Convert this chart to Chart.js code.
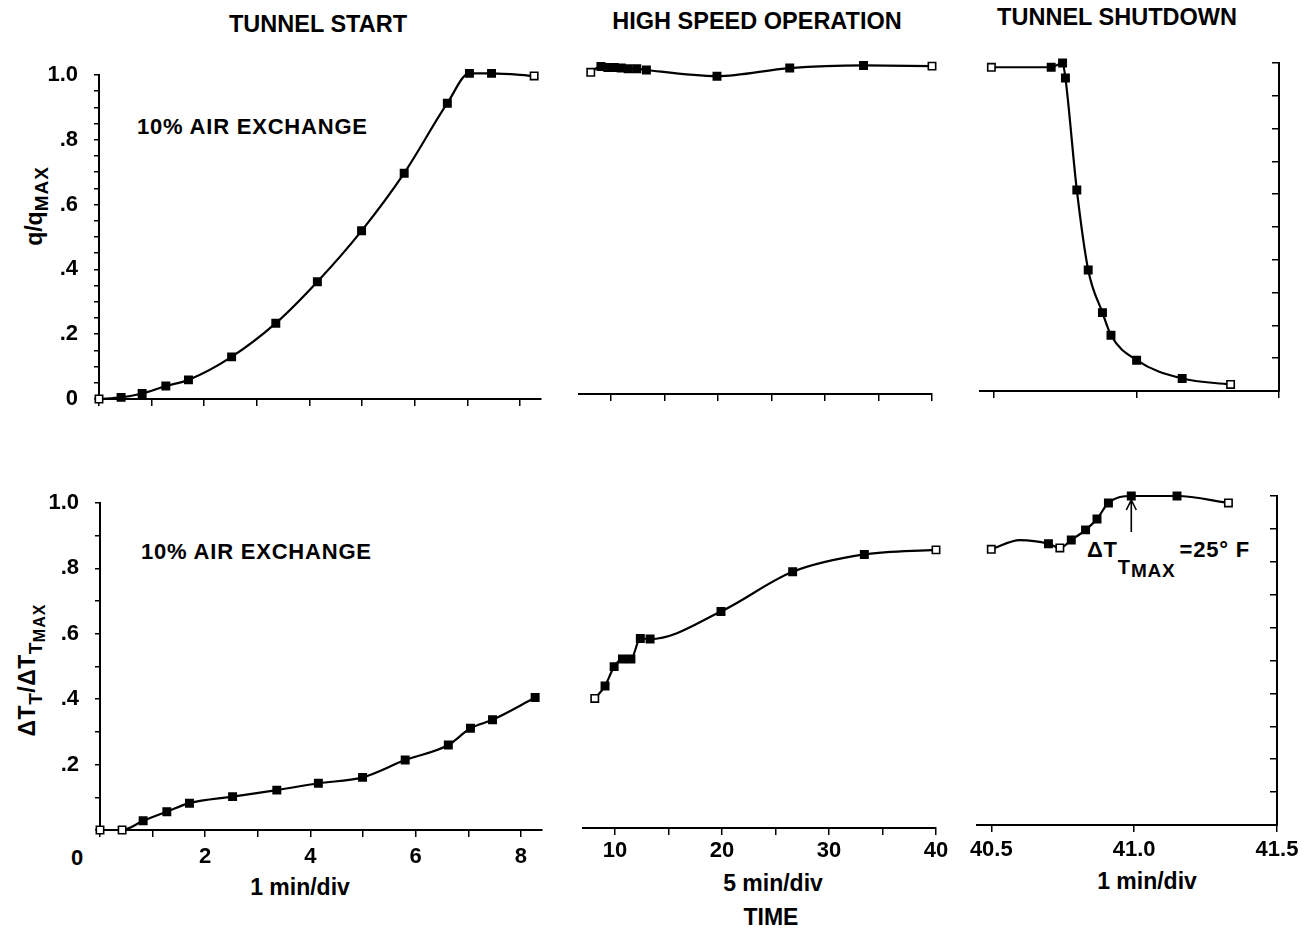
<!DOCTYPE html>
<html>
<head>
<meta charset="utf-8">
<script src="https://cdn.jsdelivr.net/npm/chart.js@4.4.1/dist/chart.umd.min.js"></script>
<style>
  html, body { margin: 0; padding: 0; background: #fff; }
  #fig {
    position: relative; width: 1314px; height: 932px; overflow: hidden; background: #fff;
    font-family: 'Liberation Sans', Arial, sans-serif; font-weight: bold; color: #000;
  }
  #fig canvas { position: absolute; }
  .lbl { position: absolute; white-space: nowrap; line-height: 1; transform: translate(-50%, -50%); }
  .ttl { font-size: 23.5px; }
  .axt { font-size: 23px; }
  .note { position: absolute; white-space: nowrap; line-height: 1; font-size: 22px; letter-spacing: 0.8px; }
  .vert { position: absolute; white-space: nowrap; line-height: 1; transform: translate(-50%, -50%) rotate(-90deg); }
  .sub { display: inline-block; position: relative; }
</style>
</head>
<body>
<div id="fig">
  <div class="lbl ttl" style="left:318px; top:25px;">TUNNEL START</div>
  <div class="lbl ttl" style="left:757px; top:22px;">HIGH SPEED OPERATION</div>
  <div class="lbl ttl" style="left:1117px; top:18px;">TUNNEL SHUTDOWN</div>

  <div class="note" style="left:137px; top:116px;">10% AIR EXCHANGE</div>
  <div class="note" style="left:141px; top:541px;">10% AIR EXCHANGE</div>

  <div class="vert" style="left:34px; top:206px; font-size:23px;">q/q<span class="sub" style="font-size:19px; top:6px; letter-spacing:1px;">MAX</span></div>
  <div class="vert" style="left:27px; top:670px; font-size:23px; letter-spacing:0.5px;">&Delta;T<span class="sub" style="font-size:19px; top:7px;">T</span>/&Delta;T<span class="sub" style="font-size:19px; top:7px;">T</span><span class="sub" style="font-size:16px; top:10px; letter-spacing:1px;">MAX</span></div>

  <div class="lbl" style="left:77px; top:858px; font-size:22px;">0</div>

  <div class="lbl axt" style="left:300px; top:887px;">1 min/div</div>
  <div class="lbl axt" style="left:773px; top:883px;">5 min/div</div>
  <div class="lbl axt" style="left:771px; top:917px;">TIME</div>
  <div class="lbl axt" style="left:1147px; top:881px;">1 min/div</div>

  <div class="note" style="left:1087px; top:539px;">&Delta;T<span class="sub" style="font-size:20px; top:17px;">T</span><span class="sub" style="font-size:19px; top:20px;">MAX</span><span style="margin-left:4px;">=25&deg; F</span></div>
</div>

<script>
// ---- values ----
// tunnel start, time in minutes (1 min/div)
const startTime = [0, 0.42, 0.82, 1.27, 1.7, 2.52, 3.36, 4.15, 4.99, 5.8, 6.62, 7.04, 7.46, 8.27];
const startQ    = [0, 0.005, 0.017, 0.04, 0.059, 0.13, 0.234, 0.362, 0.519, 0.697, 0.913, 1.005, 1.005, 0.997];
const startDT   = [0, 0, 0.028, 0.056, 0.082, 0.102, 0.122, 0.143, 0.161, 0.214, 0.26, 0.311, 0.337, 0.405];

// high speed operation (5 min/div)
const highTimeQ  = [8.1, 9.05, 9.69, 10.3, 10.95, 11.6, 12.4, 13.3, 19.9, 26.7, 33.6, 40];
const highQ      = [0.993, 1.011, 1.008, 1.008, 1.006, 1.004, 1.004, 1.0, 0.981, 1.006, 1.014, 1.012];
const highTimeDT = [8.1, 9.06, 9.91, 10.69, 11.48, 12.36, 13.27, 19.9, 26.6, 33.3, 40];
const highDT     = [0.395, 0.433, 0.492, 0.515, 0.515, 0.578, 0.576, 0.66, 0.781, 0.834, 0.848];

// tunnel shutdown (1 min/div)
const shutTimeQ  = [40.49, 40.7, 40.74, 40.75, 40.79, 40.83, 40.88, 40.91, 41.0, 41.16, 41.33];
const shutQ      = [0.987, 0.987, 1.0, 0.954, 0.613, 0.369, 0.239, 0.17, 0.094, 0.038, 0.02];
const shutTimeDT = [40.5, 40.6, 40.7, 40.74, 40.78, 40.83, 40.87, 40.91, 40.99, 41.15, 41.33];
const shutDT     = [0.838, 0.866, 0.855, 0.842, 0.866, 0.897, 0.93, 0.979, 1.0, 1.0, 0.979];

// hollow markers and unmarked curve points (indices)
const openStartQ = [0, 13], openStartDT = [0, 1];
const openHighQ = [0, 11], openHighDT = [0, 10];
const openShutQ = [0, 10], openShutDT = [0, 3, 10];
const bareShutDT = [1];

// tick labels
const yTopVals = [0, 0.2, 0.4, 0.6, 0.8, 1.0];
const yTopText = ['0', '.2', '.4', '.6', '.8', '1.0'];
const yBotVals = [0.2, 0.4, 0.6, 0.8, 1.0];
const yBotText = ['.2', '.4', '.6', '.8', '1.0'];
const xStartVals = [2, 4, 6, 8];
const xHighVals = [10, 20, 30, 40];
const xShutVals = [40.5, 41.0, 41.5];
const xShutText = ['40.5', '41.0', '41.5'];

// peak marker arrow (ΔT_TMAX)
const arrowTime = 40.99, arrowTip = 1.0;

// ---- layout ----
// margins round each plot area; top/right are generous so chart.js
// never nudges the plot area for the edge tick labels
const ML = 80, MR = 40, MT = 40, MB = 50;
const FONT = { family: "'Liberation Sans', Arial, sans-serif", size: 22, weight: 'bold' };
const fig = document.getElementById('fig');

function labeler(vals, text) {
  return v => {
    const i = vals.findIndex(t => Math.abs(t - v) < 1e-6);
    return i < 0 ? '' : (text ? text[i] : String(vals[i]));
  };
}

function series(xs, ys, open, bare) {
  bare = bare || [];
  return {
    data: xs.map((x, i) => ({ x, y: ys[i] })),
    borderColor: '#000',
    borderWidth: 2.2,
    cubicInterpolationMode: 'monotone',
    pointStyle: 'rect',
    pointRadius: xs.map((_, i) => bare.includes(i) ? 0 : 5.2),
    pointBackgroundColor: xs.map((_, i) => open.includes(i) ? '#fff' : '#000'),
    pointBorderColor: '#000',
    pointBorderWidth: 1.6,
    clip: false,
  };
}

const peakArrow = {
  id: 'peakArrow',
  afterDatasetsDraw(chart) {
    const x = chart.scales.x.getPixelForValue(arrowTime);
    const y = chart.scales.y.getPixelForValue(arrowTip) + 4;
    const ctx = chart.ctx;
    ctx.save();
    ctx.strokeStyle = '#000';
    ctx.lineWidth = 1.6;
    ctx.beginPath();
    ctx.moveTo(x, y); ctx.lineTo(x, y + 32);
    ctx.moveTo(x - 5, y + 10); ctx.lineTo(x, y); ctx.lineTo(x + 5, y + 10);
    ctx.stroke();
    ctx.restore();
  }
};

function panel(rect, o) {
  const cv = document.createElement('canvas');
  const w = rect.r - rect.l + ML + MR, h = rect.b - rect.t + MT + MB;
  cv.width = w; cv.height = h;
  cv.style.left = (rect.l - ML) + 'px';
  cv.style.top = (rect.t - MT) + 'px';
  cv.style.width = w + 'px';
  cv.style.height = h + 'px';
  fig.appendChild(cv);

  const yPos = o.yPos || 'left';
  const gridOf = len => ({ display: true, drawOnChartArea: false, drawTicks: true,
                           tickLength: len, color: '#000', lineWidth: 1.5 });
  const yScale = {
    type: 'linear', min: 0, max: 1, position: yPos, display: o.yShow,
    border: { display: true, color: '#000', width: 2 },
    grid: gridOf(yPos === 'right' ? -7 : 5),
    ticks: { stepSize: o.yStep, includeBounds: false, autoSkip: false,
             padding: 16, color: '#000', font: FONT, callback: o.yLabel }
  };
  if (o.yShow) yScale.afterFit = s => { s.width = yPos === 'right' ? MR : ML; };

  new Chart(cv, {
    type: 'line',
    data: { datasets: [o.ds] },
    options: {
      responsive: false,
      animation: false,
      events: [],
      layout: { padding: { top: MT, bottom: 0,
                           left: (o.yShow && yPos === 'left') ? 0 : ML,
                           right: (o.yShow && yPos === 'right') ? 0 : MR } },
      plugins: { legend: { display: false }, tooltip: { enabled: false } },
      scales: {
        x: {
          type: 'linear', min: o.xMin, max: o.xMax,
          border: { display: true, color: '#000', width: 2 },
          grid: gridOf(7),
          ticks: { stepSize: o.xStep, includeBounds: false, autoSkip: false, maxRotation: 0,
                   padding: o.xPad || 4, color: '#000', font: FONT, callback: o.xLabel },
          afterFit: s => { s.height = MB; }
        },
        y: yScale
      }
    },
    plugins: o.plugins || []
  });
}

const none = () => '';

// top row: q / qMAX
panel({ l: 99, r: 541, t: 75, b: 399 }, {
  ds: series(startTime, startQ, openStartQ),
  xMin: 0, xMax: 8.4, xStep: 1, xLabel: none,
  yShow: true, yStep: 0.05, yLabel: labeler(yTopVals, yTopText)
});
panel({ l: 579, r: 932, t: 70, b: 394 }, {
  ds: series(highTimeQ, highQ, openHighQ),
  xMin: 7, xMax: 40, xStep: 5, xLabel: none,
  yShow: false, yStep: 0.1, yLabel: none
});
panel({ l: 980, r: 1279, t: 63, b: 391 }, {
  ds: series(shutTimeQ, shutQ, openShutQ),
  xMin: 40.45, xMax: 41.5, xStep: 0.5, xLabel: none,
  yShow: true, yPos: 'right', yStep: 0.1, yLabel: none
});

// bottom row: ΔT_T / ΔT_TMAX
panel({ l: 100, r: 542, t: 503, b: 830 }, {
  ds: series(startTime, startDT, openStartDT),
  xMin: 0, xMax: 8.4, xStep: 1, xPad: 7, xLabel: labeler(xStartVals),
  yShow: true, yStep: 0.1, yLabel: labeler(yBotVals, yBotText)
});
panel({ l: 583, r: 936, t: 500, b: 828 }, {
  ds: series(highTimeDT, highDT, openHighDT),
  xMin: 7, xMax: 40, xStep: 5, xPad: 3, xLabel: labeler(xHighVals),
  yShow: false, yStep: 0.1, yLabel: none
});
panel({ l: 977, r: 1277, t: 496, b: 825 }, {
  ds: series(shutTimeDT, shutDT, openShutDT, bareShutDT),
  xMin: 40.45, xMax: 41.5, xStep: 0.5, xPad: 5, xLabel: labeler(xShutVals, xShutText),
  yShow: true, yPos: 'right', yStep: 0.1, yLabel: none,
  plugins: [peakArrow]
});
</script>
</body>
</html>
